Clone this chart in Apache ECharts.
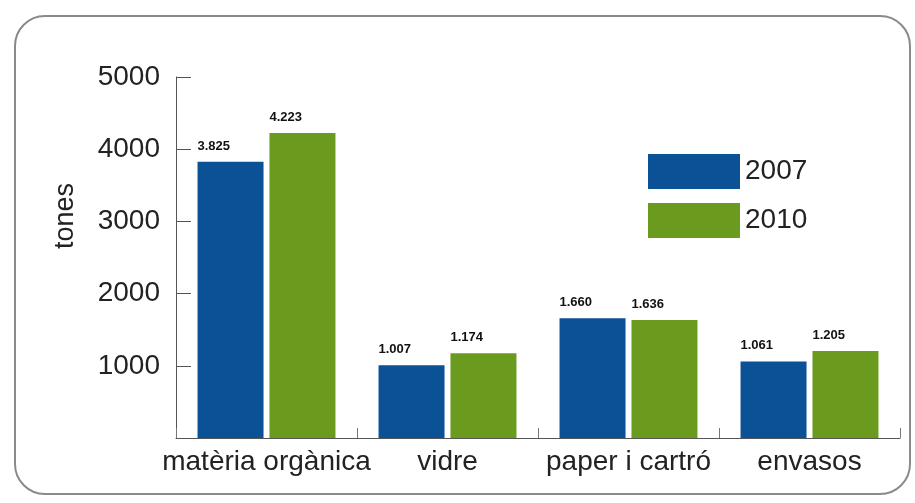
<!DOCTYPE html>
<html>
<head>
<meta charset="utf-8">
<script src="https://cdn.jsdelivr.net/npm/echarts@6/dist/echarts.min.js"></script>
<style>
  html, body { margin: 0; padding: 0; background: #fff; }
  #chart { width: 915px; height: 503px; }
</style>
</head>
<body>
<div id="chart"></div>
<script>
    // dades
    var categories = ['matèria orgànica', 'vidre', 'paper i cartró', 'envasos'];
    var years = ['2007', '2010'];
    var values2007 = [3825, 1007, 1660, 1061];
    var values2010 = [4223, 1174, 1636, 1205];

    var font = 'Liberation Sans';
    var blue = '#0b5196';
    var green = '#6a9a1e';

    // 3825 -> "3.825"
    function dotThousands(v) {
        return String(v).replace(/\B(?=(\d{3})+(?!\d))/g, '.');
    }

    function barSeries(name, data, color) {
        return {
            name: name,
            type: 'bar',
            data: data,
            barWidth: 66,
            barGap: '9%',
            itemStyle: { color: color },
            label: {
                show: true,
                position: [0, -9],
                verticalAlign: 'bottom',
                align: 'left',
                fontFamily: font,
                fontWeight: 'bold',
                fontSize: 13,
                color: '#111',
                formatter: function (p) { return dotThousands(p.value); }
            }
        };
    }

    var myChart = echarts.init(document.getElementById('chart'));
    var option = {
        animation: false,
        textStyle: { fontFamily: font },
        graphic: [{
            type: 'rect',
            shape: { x: 15, y: 16, width: 895, height: 478, r: 30 },
            style: { fill: 'none', stroke: '#8a8a8a', lineWidth: 2 },
            z: -1
        }, {
            type: 'text',
            x: 52,
            y: 216,
            rotation: Math.PI / 2,
            style: {
                text: 'tones',
                fontFamily: font,
                fontSize: 27,
                fill: '#222',
                align: 'center',
                verticalAlign: 'top'
            }
        }],
        legend: {
            data: years,
            orient: 'vertical',
            left: 643,
            top: 149,
            itemWidth: 92,
            itemHeight: 35,
            itemGap: 14,
            icon: 'rect',
            textStyle: { fontFamily: font, fontSize: 28, color: '#222' }
        },
        grid: {
            left: 176,
            right: 15,
            top: 77,
            bottom: 65
        },
        xAxis: {
            type: 'category',
            data: categories,
            axisLine: { lineStyle: { color: '#555', width: 1 } },
            axisTick: { show: true, inside: true, length: 10, lineStyle: { color: '#777' } },
            axisLabel: {
                fontFamily: font,
                fontSize: 28,
                color: '#222',
                margin: 10,
                interval: 0,
                hideOverlap: false
            }
        },
        yAxis: {
            type: 'value',
            min: 0,
            max: 5000,
            interval: 1000,
            splitLine: { show: false },
            axisLine: { show: true, lineStyle: { color: '#555', width: 1 } },
            axisTick: { show: true, inside: true, length: 15, lineStyle: { color: '#555' } },
            axisLabel: {
                fontFamily: font,
                fontSize: 28,
                color: '#222',
                margin: 16,
                showMinLabel: false,
                formatter: function (v) { return String(v); }
            }
        },
        series: [
            barSeries(years[0], values2007, blue),
            barSeries(years[1], values2010, green)
        ]
    };
    myChart.setOption(option);
</script>
</body>
</html>
